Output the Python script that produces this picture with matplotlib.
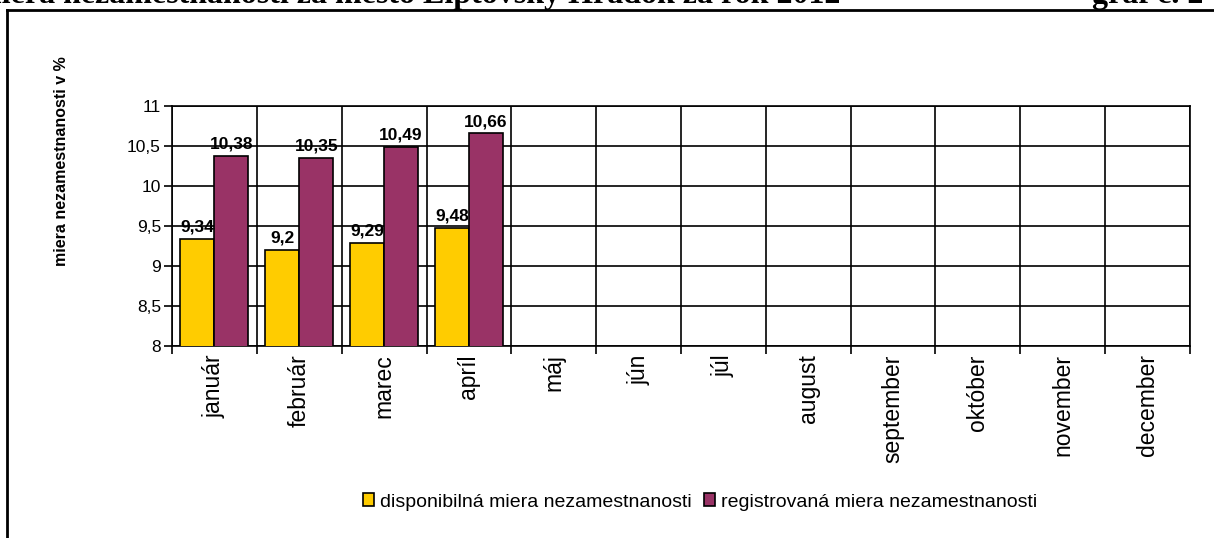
import matplotlib.pyplot as plt
from matplotlib.lines import Line2D
import numpy as np

plt.rcParams["font.family"] = ["Liberation Sans", "DejaVu Sans"]

months = ["január", "február", "marec", "apríl", "máj", "jún", "júl",
          "august", "september", "október", "november", "december"]
disponibilna = [9.34, 9.2, 9.29, 9.48]
registrovana = [10.38, 10.35, 10.49, 10.66]
labels_disp = ["9,34", "9,2", "9,29", "9,48"]
labels_reg = ["10,38", "10,35", "10,49", "10,66"]
yticks = [8, 8.5, 9, 9.5, 10, 10.5, 11]
ytick_labels = ["8", "8,5", "9", "9,5", "10", "10,5", "11"]

YELLOW = "#FFCC00"
PURPLE = "#993366"

W, H = 1214, 538
fig = plt.figure(figsize=(W / 100, H / 100), dpi=100)
ax = fig.add_axes([172 / W, 1 - 346 / H, (1190 - 172) / W, (346 - 106) / H])

x = np.arange(len(months))
xd = x[:len(disponibilna)]
b1 = ax.bar(xd - 0.2, disponibilna, width=0.4, color=YELLOW,
            edgecolor="black", linewidth=1.2, zorder=3,
            label="disponibilná miera nezamestnanosti")
b2 = ax.bar(xd + 0.2, registrovana, width=0.4, color=PURPLE,
            edgecolor="black", linewidth=1.2, zorder=3,
            label="registrovaná miera nezamestnanosti")

for xi, v, t in zip(xd - 0.2, disponibilna, labels_disp):
    ax.annotate(t, (xi, v), xytext=(0, 3), textcoords="offset points",
                ha="center", va="bottom", fontsize=12.5, fontweight="bold",
                clip_on=False, zorder=5)
for xi, v, t in zip(xd + 0.2, registrovana, labels_reg):
    ax.annotate(t, (xi, v), xytext=(0, 3), textcoords="offset points",
                ha="center", va="bottom", fontsize=12.5, fontweight="bold",
                clip_on=False, zorder=5)

ax.set_xlim(-0.5, len(months) - 0.5)
ax.set_ylim(8, 11)
ax.set_yticks(yticks)
ax.set_yticklabels(ytick_labels, fontsize=12.5)

ax.set_xticks(x)
ax.set_xticklabels(months, rotation=90, fontsize=16.5)
ax.tick_params(axis="x", which="major", length=0, pad=6)
ax.set_xticks(np.arange(len(months) + 1) - 0.5, minor=True)
ax.tick_params(axis="x", which="minor", length=6, width=1.2, direction="out")
ax.tick_params(axis="y", length=6, width=1.2, direction="out", pad=2)

ax.grid(True, axis="y", which="major", color="black", linewidth=1.2, zorder=0)
ax.grid(True, axis="x", which="minor", color="black", linewidth=1.2, zorder=0)
for s in ax.spines.values():
    s.set_color("black")
    s.set_linewidth(1.2)

fig.text(62 / W, 1 - 161 / H, "miera nezamestnanosti v %", rotation=90,
         ha="center", va="center", fontsize=11.5, fontweight="bold")

fig.legend(handles=[b1, b2], loc="center", bbox_to_anchor=(700 / W, 1 - 502 / H),
           ncol=2, frameon=False, fontsize=14, handlelength=0.6,
           handleheight=0.6, handletextpad=0.3, columnspacing=0.6)

# header text cut at top of the page
fig.text(840 / W, 1 - 3 / H,
         "miera nezamestnanosti za mesto Liptovský Hrádok za rok 2012",
         ha="right", va="baseline", fontsize=23, fontweight="bold",
         family="Liberation Serif")
fig.text(1092 / W, 1 - 3 / H, "graf č. 2", ha="left", va="baseline",
         fontsize=23, fontweight="bold", family="Liberation Serif")

# page frame
fig.add_artist(Line2D([7 / W, 1], [1 - 10 / H, 1 - 10 / H], color="black",
                      linewidth=2, transform=fig.transFigure))
fig.add_artist(Line2D([7 / W, 7 / W], [1 - 10 / H, 0], color="black",
                      linewidth=2, transform=fig.transFigure))

fig.savefig("out.png", dpi=100)
